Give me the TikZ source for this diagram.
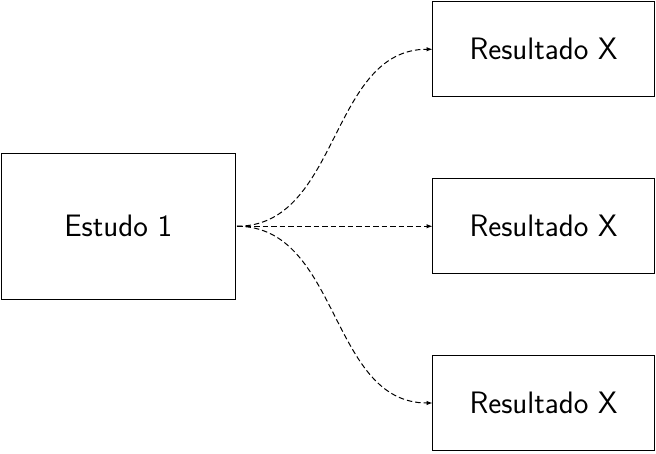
\documentclass[tikz,border=0pt]{standalone}
\usetikzlibrary{arrows.meta}
\begin{document}
\begin{tikzpicture}[x=1pt,y=1pt,
  box/.style={draw,line width=1pt,inner sep=0pt,outer sep=0pt,font=\sffamily\fontsize{31}{37}\selectfont},
  link/.style={dash pattern=on 5.5pt off 3pt,line width=1pt,-{Latex[length=6pt,width=4.5pt]}}]
\useasboundingbox (0,0) rectangle (656,453);
\node[box,minimum width=233.5pt,minimum height=145.5pt] (e) at (118.25,226.75) {Estudo 1};
\node[box,minimum width=222pt,minimum height=95.5pt] (r1) at (543.5,403.75) {Resultado X};
\node[box,minimum width=222pt,minimum height=95.5pt] (r2) at (543.5,226.75) {Resultado X};
\node[box,minimum width=222pt,minimum height=95.5pt] (r3) at (543.5,50) {Resultado X};
\draw[link] ([xshift=2pt]e.east) to[out=0,in=180] (r1.west);
\draw[link] ([xshift=2pt]e.east) -- (r2.west);
\draw[link] ([xshift=2pt]e.east) to[out=0,in=180] (r3.west);
\end{tikzpicture}
\end{document}
